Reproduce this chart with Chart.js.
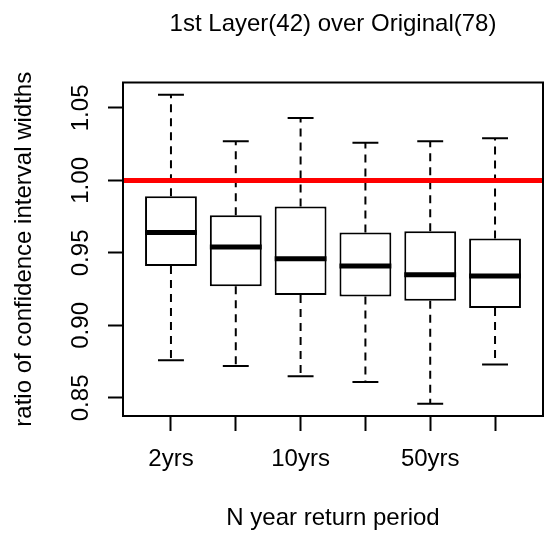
<!DOCTYPE html>
<html>
<head>
<meta charset="utf-8">
<script src="https://cdn.jsdelivr.net/npm/chart.js@4.4.1/dist/chart.umd.min.js"></script>
<style>
  body { margin: 0; background: #fff; }
  #wrap { width: 544px; height: 534px; }
</style>
</head>
<body>
<div id="wrap"><canvas id="boxChart" width="544" height="534"></canvas></div>
<script>
// du lieu doc tu hinh (boxplot cua R)
const categories = ['2yrs', '', '10yrs', '', '50yrs', ''];
const whiskerHigh = [1.059, 1.027, 1.043, 1.026, 1.027, 1.029];
const upperQuartile = [0.989, 0.976, 0.982, 0.964, 0.965, 0.960];
const medians = [0.964, 0.954, 0.946, 0.941, 0.935, 0.934];
const lowerQuartile = [0.941, 0.927, 0.921, 0.920, 0.917, 0.912];
const whiskerLow = [0.876, 0.872, 0.865, 0.861, 0.846, 0.873];
const refValue = 1.0;
const yTicks = [0.85, 0.90, 0.95, 1.00, 1.05];
const yTickLabels = ['0.85', '0.90', '0.95', '1.00', '1.05'];

const xMin = 0.26, xMax = 6.74;
const yMin = 0.8375, yMax = 1.0675;

const font = { family: 'Liberation Sans', size: 24, weight: 'normal' };

// ghep cac doan thang, ngat bang null
function segs(list) {
    const out = [];
    list.forEach(s => {
        out.push({ x: s[0], y: s[1] }, { x: s[2], y: s[3] }, { x: s[2], y: null });
    });
    return out;
}

const pos = categories.map((c, i) => i + 1);

const medianData = segs(pos.map((x, i) => [x - 0.4, medians[i], x + 0.4, medians[i]]));
const capData = segs(pos.flatMap((x, i) => [
    [x - 0.2, whiskerHigh[i], x + 0.2, whiskerHigh[i]],
    [x - 0.2, whiskerLow[i], x + 0.2, whiskerLow[i]]
]));
const whiskerData = segs(pos.flatMap((x, i) => [
    [x, upperQuartile[i], x, whiskerHigh[i]],
    [x, lowerQuartile[i], x, whiskerLow[i]]
]));
const boxData = pos.map((x, i) => ({ x: x, y: [lowerQuartile[i], upperQuartile[i]] }));

// khung quanh vung ve
const framePlugin = {
    id: 'frame',
    afterDraw(chart) {
        const { ctx, chartArea: a } = chart;
        ctx.save();
        ctx.strokeStyle = '#000';
        ctx.lineWidth = 2;
        ctx.strokeRect(a.left, a.top, a.right - a.left, a.bottom - a.top);
        ctx.restore();
    }
};

const lineBase = { type: 'line', pointRadius: 0, tension: 0, fill: false, spanGaps: false };

new Chart(document.getElementById('boxChart'), {
    type: 'bar',
    data: {
        datasets: [
            { ...lineBase, data: [{ x: xMin, y: refValue }, { x: xMax, y: refValue }], borderColor: '#ff0000', borderWidth: 5 },
            { ...lineBase, data: medianData, borderColor: '#000', borderWidth: 5 },
            { ...lineBase, data: capData, borderColor: '#000', borderWidth: 2 },
            { ...lineBase, data: whiskerData, borderColor: '#000', borderWidth: 2, borderDash: [8, 6] },
            {
                type: 'bar', data: boxData, backgroundColor: '#fff', borderColor: '#000',
                borderWidth: 2, borderSkipped: false, barPercentage: 0.8, categoryPercentage: 1
            }
        ]
    },
    options: {
        responsive: false,
        animation: false,
        layout: { padding: { left: 0, top: 0, right: 1, bottom: 0 } },
        plugins: {
            legend: { display: false },
            tooltip: { enabled: false },
            title: {
                display: true,
                text: '1st Layer(42) over Original(78)',
                fullSize: false,
                color: '#000',
                font: font,
                padding: { top: 10.3, bottom: 43.4 }
            }
        },
        scales: {
            x: {
                type: 'linear', min: xMin, max: xMax, offset: false,
                afterBuildTicks: s => { s.ticks = pos.map(v => ({ value: v })); },
                afterFit: s => { s.height = 118; },
                ticks: { callback: (v, i) => categories[i], autoSkip: false, maxRotation: 0, padding: 14, color: '#000', font: font },
                grid: { drawOnChartArea: false, offset: false, tickLength: 15, tickWidth: 2, tickColor: '#000' },
                border: { display: false },
                title: { display: true, text: 'N year return period', color: '#000', font: font, padding: { top: 0, bottom: 0.9 } }
            },
            y: {
                min: yMin, max: yMax,
                afterBuildTicks: s => { s.ticks = yTicks.map(v => ({ value: v })); },
                afterFit: s => { s.width = 123; },
                ticks: { callback: (v, i) => yTickLabels[i], minRotation: 90, maxRotation: 90, crossAlign: 'center', padding: 3, color: '#000', font: font },
                grid: { drawOnChartArea: false, tickLength: 15, tickWidth: 2, tickColor: '#000' },
                border: { display: false },
                title: { display: true, text: 'ratio of confidence interval widths', color: '#000', font: font, padding: { top: 10.3, bottom: 0 } }
            }
        }
    },
    plugins: [framePlugin]
});
</script>
</body>
</html>
